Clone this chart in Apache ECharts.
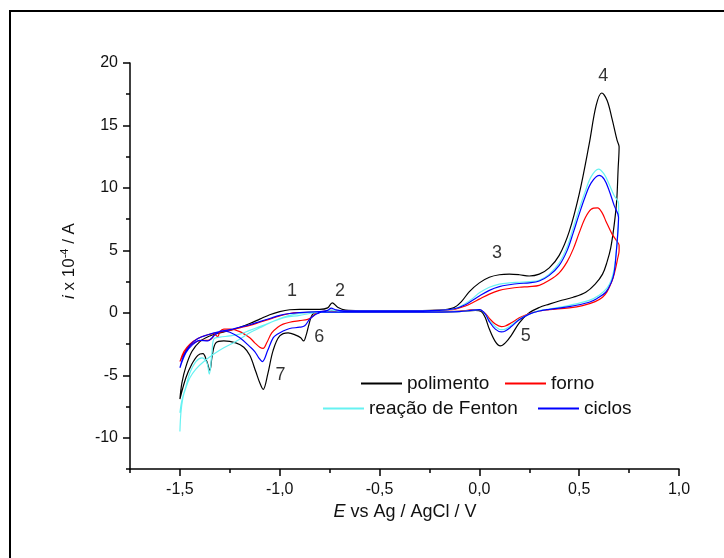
<!DOCTYPE html>
<html>
<head>
<meta charset="utf-8">
<script src="https://cdn.jsdelivr.net/npm/echarts@6/dist/echarts.min.js"></script>
<style>html,body{margin:0;padding:0;background:#fff;}#c{width:724px;height:558px;}</style>
</head>
<body>
<div id="c"></div>
<script>
// ---- data (E / V vs Ag/AgCl, i x 1e-4 A) ----
const seriesNames = ['polimento', 'forno', 'reação de Fenton', 'ciclos'];

const polimento = [
[-1.50,-6.9],[-1.49,-5.6],[-1.47,-4.3],[-1.44,-3.1],[-1.40,-2.3],[-1.35,-1.85],[-1.30,-1.6],[-1.25,-1.4],[-1.20,-1.15],[-1.15,-0.85],[-1.10,-0.5],[-1.05,-0.15],[-1.00,0.1],[-0.95,0.25],[-0.90,0.28],[-0.80,0.28],[-0.76,0.4],[-0.737,0.8],[-0.71,0.45],[-0.67,0.22],[-0.60,0.18],[-0.40,0.18],[-0.20,0.22],[-0.13,0.4],[-0.09,0.9],[-0.05,1.7],[0.00,2.4],[0.05,2.85],[0.10,3.05],[0.15,3.1],[0.20,3.05],[0.25,2.95],[0.30,3.1],[0.35,3.6],[0.40,4.6],[0.45,6.5],[0.50,9.5],[0.55,13.5],[0.585,16.6],[0.613,17.6],[0.64,17.0],[0.665,15.5],[0.69,13.8],[0.70,13.3],
[0.695,11.5],[0.688,9.0],[0.675,7.0],[0.658,5.2],[0.64,4.1],[0.617,3.1],[0.58,2.3],[0.533,1.65],[0.47,1.25],[0.40,0.95],[0.35,0.7],[0.30,0.43],[0.25,0.0],[0.20,-0.8],[0.16,-1.8],[0.13,-2.4],[0.105,-2.65],[0.08,-2.3],[0.05,-1.3],[0.03,-0.4],[0.01,0.1],[-0.02,0.2],[-0.10,0.12],[-0.30,0.05],[-0.60,0.03],[-0.80,0.03],[-0.835,-0.1],[-0.853,-0.9],[-0.868,-1.8],[-0.88,-2.25],[-0.895,-2.0],[-0.917,-1.8],[-0.958,-1.6],[-1.00,-1.85],[-1.033,-3.0],[-1.06,-4.9],[-1.083,-6.13],[-1.10,-5.6],[-1.12,-4.7],[-1.15,-3.4],[-1.18,-2.75],[-1.22,-2.4],[-1.28,-2.25],[-1.32,-2.4],[-1.338,-3.4],[-1.35,-4.6],[-1.365,-3.9],[-1.385,-3.27],[-1.41,-3.4],[-1.44,-4.1],[-1.47,-5.2],[-1.50,-6.9]
];

const forno = [
[-1.50,-3.9],[-1.48,-3.1],[-1.45,-2.5],[-1.41,-2.05],[-1.36,-1.75],[-1.30,-1.55],[-1.25,-1.4],[-1.20,-1.2],[-1.15,-1.0],[-1.10,-0.75],[-1.05,-0.5],[-1.00,-0.25],[-0.95,-0.05],[-0.90,0.02],[-0.80,0.08],[-0.74,0.2],[-0.70,0.12],[-0.60,0.15],[-0.40,0.15],[-0.20,0.2],[-0.12,0.3],[-0.07,0.55],[-0.03,0.85],[0.00,1.1],[0.05,1.5],[0.10,1.8],[0.15,1.95],[0.20,2.05],[0.25,2.1],[0.30,2.2],[0.35,2.6],[0.40,3.2],[0.44,4.1],[0.47,5.1],[0.50,6.4],[0.53,7.6],[0.56,8.3],[0.592,8.4],[0.615,8.0],[0.635,7.3],[0.665,6.3],[0.69,5.7],[0.70,5.4],
[0.70,5.0],[0.692,4.3],[0.683,3.6],[0.67,2.8],[0.658,2.3],[0.64,1.7],[0.617,1.25],[0.58,0.9],[0.517,0.58],[0.45,0.4],[0.35,0.25],[0.30,0.15],[0.25,-0.05],[0.20,-0.4],[0.16,-0.8],[0.13,-1.05],[0.11,-1.1],[0.08,-0.9],[0.05,-0.45],[0.03,-0.05],[0.00,0.25],[-0.03,0.25],[-0.10,0.12],[-0.30,0.05],[-0.60,0.05],[-0.78,0.08],[-0.82,-0.05],[-0.84,-0.35],[-0.86,-0.52],[-0.90,-0.62],[-0.95,-0.75],[-0.983,-0.9],[-1.01,-1.15],[-1.04,-1.6],[-1.065,-2.4],[-1.083,-2.84],[-1.10,-2.75],[-1.125,-2.4],[-1.15,-2.0],[-1.20,-1.5],[-1.25,-1.3],[-1.28,-1.3],[-1.30,-1.5],[-1.31,-1.9],[-1.325,-1.75],[-1.34,-2.05],[-1.36,-2.2],[-1.39,-2.2],[-1.43,-2.4],[-1.46,-2.8],[-1.48,-3.3],[-1.50,-3.9]
];

const fenton = [
[-1.50,-9.5],[-1.495,-8.0],[-1.485,-6.8],[-1.47,-6.0],[-1.45,-5.2],[-1.42,-4.5],[-1.38,-3.9],[-1.33,-3.3],[-1.28,-2.8],[-1.22,-2.3],[-1.15,-1.6],[-1.10,-1.2],[-1.05,-0.8],[-1.00,-0.45],[-0.95,-0.2],[-0.90,-0.05],[-0.85,0.05],[-0.78,0.1],[-0.74,0.22],[-0.70,0.12],[-0.60,0.15],[-0.40,0.15],[-0.20,0.2],[-0.12,0.35],[-0.07,0.75],[-0.03,1.2],[0.00,1.6],[0.05,2.05],[0.10,2.3],[0.15,2.4],[0.20,2.45],[0.25,2.5],[0.30,2.6],[0.35,3.1],[0.40,4.0],[0.44,5.3],[0.47,6.8],[0.50,8.3],[0.53,9.7],[0.56,10.9],[0.597,11.5],[0.625,11.1],[0.65,10.3],[0.675,9.4],[0.697,8.8],
[0.698,7.9],[0.693,6.3],[0.685,4.8],[0.675,3.5],[0.66,2.6],[0.64,2.0],[0.60,1.4],[0.55,1.0],[0.45,0.6],[0.35,0.3],[0.30,0.18],[0.25,-0.1],[0.20,-0.5],[0.16,-1.0],[0.13,-1.3],[0.11,-1.35],[0.08,-1.1],[0.05,-0.6],[0.03,-0.1],[0.00,0.25],[-0.03,0.22],[-0.10,0.1],[-0.30,0.05],[-0.60,0.05],[-0.80,0.03],[-0.85,-0.05],[-0.90,-0.2],[-0.983,-0.4],[-1.05,-0.8],[-1.10,-1.1],[-1.15,-1.4],[-1.20,-1.7],[-1.25,-1.85],[-1.30,-1.95],[-1.33,-2.1],[-1.34,-3.3],[-1.353,-4.9],[-1.365,-4.0],[-1.39,-3.6],[-1.42,-3.9],[-1.45,-4.8],[-1.47,-5.9],[-1.49,-7.0],[-1.50,-8.0]
];

const ciclos = [
[-1.50,-4.4],[-1.48,-3.4],[-1.45,-2.6],[-1.41,-2.05],[-1.36,-1.75],[-1.30,-1.5],[-1.25,-1.35],[-1.20,-1.15],[-1.15,-0.95],[-1.10,-0.7],[-1.05,-0.45],[-1.00,-0.2],[-0.95,-0.05],[-0.90,0.02],[-0.80,0.1],[-0.76,0.2],[-0.742,0.38],[-0.72,0.25],[-0.68,0.15],[-0.60,0.15],[-0.40,0.15],[-0.20,0.2],[-0.12,0.35],[-0.07,0.65],[-0.03,1.05],[0.00,1.35],[0.05,1.8],[0.10,2.1],[0.15,2.25],[0.20,2.35],[0.25,2.4],[0.30,2.55],[0.35,3.0],[0.40,3.8],[0.44,5.0],[0.47,6.4],[0.50,7.9],[0.53,9.3],[0.56,10.4],[0.60,11.0],[0.625,10.7],[0.65,9.8],[0.675,8.6],[0.697,7.65],
[0.693,6.3],[0.685,4.7],[0.675,3.2],[0.66,2.4],[0.633,1.65],[0.59,1.15],[0.55,0.85],[0.45,0.5],[0.35,0.28],[0.30,0.15],[0.25,-0.1],[0.20,-0.55],[0.16,-1.1],[0.13,-1.45],[0.11,-1.53],[0.08,-1.3],[0.05,-0.7],[0.03,-0.1],[0.00,0.25],[-0.03,0.22],[-0.10,0.1],[-0.30,0.05],[-0.60,0.05],[-0.79,0.05],[-0.81,-0.05],[-0.825,-0.18],[-0.85,-0.5],[-0.875,-1.04],[-0.90,-1.15],[-0.95,-1.25],[-0.983,-1.45],[-1.01,-1.7],[-1.033,-2.0],[-1.06,-3.0],[-1.087,-3.9],[-1.105,-3.6],[-1.125,-3.1],[-1.15,-2.7],[-1.20,-2.0],[-1.25,-1.55],[-1.29,-1.45],[-1.32,-1.7],[-1.34,-2.0],[-1.36,-2.25],[-1.40,-2.2],[-1.44,-2.6],[-1.47,-3.2],[-1.50,-4.4]
];

// peak labels: [text, E, i]
const annotations = [
['1',-0.939,1.77],['2',-0.698,1.77],['3',0.088,4.82],['4',0.62,18.97],
['5',0.232,-1.86],['6',-0.802,-1.95],['7',-0.996,-4.95]
];

const xMajorTicks = [-1.5,-1.0,-0.5,0.0,0.5,1.0];
const xMinorTicks = [-1.75,-1.25,-0.75,-0.25,0.25,0.75];
const yMajorTicks = [-10,-5,0,5,10,15,20];
const yMinorTicks = [-12.5,-7.5,-2.5,2.5,7.5,12.5,17.5];

// ---- chart ----
const FONT = '"Liberation Sans", Arial, sans-serif';
const colors = ['#000000', '#ff0000', '#66f2f2', '#0000ff'];
const dataSets = [polimento, forno, fenton, ciclos];

const chart = echarts.init(document.getElementById('c'), null, {renderer: 'canvas'});

const lineSeries = dataSets.map((d, k) => ({
  name: seriesNames[k],
  type: 'line',
  data: d,
  smooth: 0.35,
  symbol: 'none',
  color: colors[k],
  lineStyle: {width: 1.2, color: colors[k]},
  z: 2 + k
}));

const legendPos = [[361,374],[505,374],[323,399],[538,399]];
const legends = seriesNames.map((n, k) => ({
  data: [n],
  left: legendPos[k][0],
  top: legendPos[k][1],
  padding: 0,
  icon: 'rect',
  itemWidth: 41,
  itemHeight: 2,
  selectedMode: false,
  textStyle: {fontFamily: FONT, fontSize: 19, color: '#111'}
}));

const fmtX = v => v.toFixed(1).replace('.', ',');

chart.setOption({
  animation: false,
  backgroundColor: '#fff',
  grid: {left: 130, right: 45, top: 63, bottom: 89, containLabel: false},
  legend: legends,
  xAxis: [{
    type: 'value', min: -1.75, max: 1.0,
    axisLine: {show: true, onZero: false, lineStyle: {color: '#000', width: 1.5}},
    axisTick: {show: true, customValues: xMajorTicks, length: 7, lineStyle: {color: '#000', width: 1.5}},
    axisLabel: {customValues: xMajorTicks, formatter: fmtX, fontFamily: FONT, fontSize: 16, color: '#111', margin: 13},
    splitLine: {show: false}
  }, {
    type: 'value', min: -1.75, max: 1.0, position: 'bottom',
    axisLine: {show: false, onZero: false},
    axisTick: {show: true, customValues: xMinorTicks, length: 4, lineStyle: {color: '#000', width: 1.5}},
    axisLabel: {show: false},
    splitLine: {show: false}
  }],
  yAxis: [{
    type: 'value', min: -12.5, max: 20,
    axisLine: {show: true, onZero: false, lineStyle: {color: '#000', width: 1.5}},
    axisTick: {show: true, customValues: yMajorTicks, length: 7, lineStyle: {color: '#000', width: 1.5}},
    axisLabel: {customValues: yMajorTicks, fontFamily: FONT, fontSize: 16, color: '#111', margin: 12},
    splitLine: {show: false}
  }, {
    type: 'value', min: -12.5, max: 20, position: 'left',
    axisLine: {show: false, onZero: false},
    axisTick: {show: true, customValues: yMinorTicks, length: 4, lineStyle: {color: '#000', width: 1.5}},
    axisLabel: {show: false},
    splitLine: {show: false}
  }],
  series: lineSeries.concat([{
    name: 'anotações',
    type: 'scatter',
    silent: true,
    symbol: 'circle',
    symbolSize: 2,
    itemStyle: {color: 'rgba(0,0,0,0)'},
    data: annotations.map(a => ({name: a[0], value: [a[1], a[2]]})),
    label: {show: true, position: 'inside', formatter: '{b}', fontFamily: FONT, fontSize: 18, color: '#000'},
    labelLayout: {hideOverlap: false},
    z: 10
  }]),
  graphic: [
    {type: 'rect', shape: {x: 10, y: 11, width: 800, height: 700}, style: {fill: 'none', stroke: '#000', lineWidth: 2}, silent: true},
    {type: 'text', x: 69, y: 261, rotation: Math.PI / 2,
     style: {text: '{i|i} x 10{s|-4} / A', align: 'center', verticalAlign: 'middle', fill: '#111',
       font: '17px ' + FONT,
       rich: {i: {fontStyle: 'italic', fontSize: 17, fontFamily: FONT, fill: '#111'},
              s: {fontSize: 11, fontFamily: FONT, fill: '#111', padding: [0, 0, 9, 0]}}}},
    {type: 'text', x: 405, y: 512,
     style: {text: '{i|E} vs Ag / AgCl / V', align: 'center', verticalAlign: 'middle', fill: '#111',
       font: '18px ' + FONT,
       rich: {i: {fontStyle: 'italic', fontSize: 18, fontFamily: FONT, fill: '#111'}}}}
  ]
});
</script>
</body>
</html>
